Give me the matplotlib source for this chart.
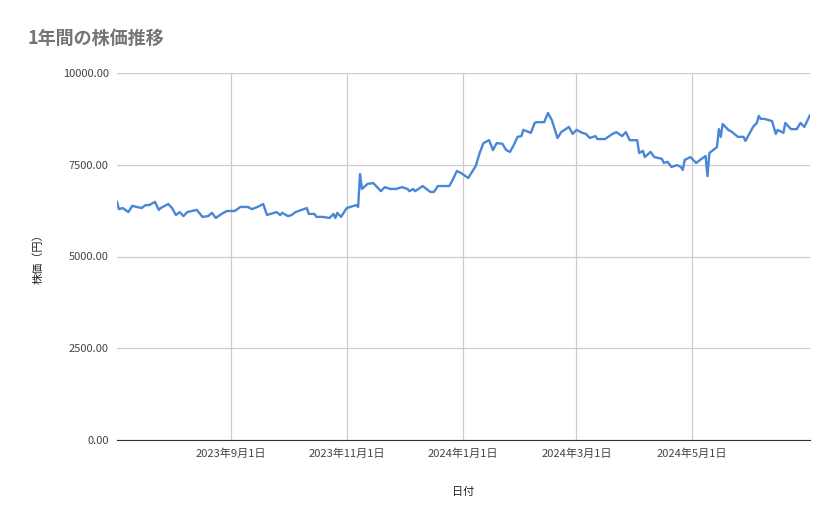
import numpy as np
import pandas as pd
import matplotlib
matplotlib.use("Agg")
from matplotlib import pyplot as plt
import matplotlib.dates as mdates

plt.rcParams['font.family'] = ['Noto Sans CJK JP', 'DejaVu Sans']

start_date = "2023-07-03"
# days since start_date
days = [0, 1, 3, 6, 8, 13, 15, 17, 20, 22, 23, 27, 29, 31, 33, 35, 37, 42, 45, 48,
        50, 52, 56, 58, 62, 65, 69, 71, 74, 77, 79, 84, 86, 87, 90, 92, 94, 100, 101, 104,
        105, 108, 112, 114, 115, 116, 118, 121, 126, 127, 128, 129, 132, 135, 137, 139, 141, 144, 147, 150,
        153, 154, 156, 157, 161, 165, 167, 169, 175, 177, 179, 181, 185, 189, 191, 193, 196, 198, 200, 203,
        205, 207, 209, 211, 213, 214, 218, 220, 221, 225, 227, 229, 232, 234, 238, 240, 242, 245, 247, 249,
        252, 253, 257, 261, 263, 266, 268, 270, 274, 275, 277, 278, 281, 283, 287, 288, 290, 292, 295, 297,
        298, 299, 302, 305, 310, 311, 312, 316, 317, 318, 319, 322, 324, 327, 330, 331, 335, 337, 338, 339,
        341, 345, 347, 348, 351, 352, 355, 358, 360, 362, 365]
prices = [6490, 6290, 6320, 6210, 6380, 6320, 6400, 6400, 6490, 6270, 6320, 6430, 6320, 6130, 6210, 6100, 6210, 6270, 6080, 6100,
          6190, 6050, 6190, 6240, 6240, 6350, 6350, 6290, 6350, 6430, 6130, 6210, 6130, 6190, 6100, 6130, 6210, 6320, 6160, 6160,
          6080, 6080, 6050, 6160, 6050, 6190, 6080, 6320, 6400, 6350, 7250, 6840, 6980, 7000, 6890, 6780, 6890, 6840, 6840, 6890,
          6840, 6780, 6840, 6780, 6920, 6760, 6760, 6920, 6920, 7110, 7330, 7280, 7140, 7470, 7820, 8090, 8170, 7900, 8090, 8070,
          7900, 7850, 8040, 8260, 8280, 8450, 8370, 8640, 8660, 8660, 8910, 8720, 8230, 8390, 8530, 8340, 8450, 8370, 8340, 8230,
          8280, 8200, 8200, 8340, 8390, 8280, 8390, 8170, 8170, 7820, 7880, 7710, 7850, 7710, 7660, 7550, 7580, 7440, 7490, 7440,
          7360, 7630, 7710, 7550, 7740, 7190, 7820, 7980, 8470, 8260, 8610, 8450, 8390, 8260, 8260, 8150, 8530, 8640, 8830, 8750,
          8750, 8690, 8340, 8450, 8370, 8640, 8470, 8470, 8640, 8530, 8850]
tick_dates = ["2023-09-01", "2023-11-01", "2024-01-01", "2024-03-01", "2024-05-01"]
tick_labels = ["2023年9月1日", "2023年11月1日", "2024年1月1日", "2024年3月1日", "2024年5月1日"]
y_ticks = [0, 2500, 5000, 7500, 10000]

dates = pd.Timestamp(start_date) + pd.to_timedelta(days, unit="D")

fig = plt.figure(figsize=(8.39, 5.19), dpi=100)
ax = fig.add_axes([117 / 839, 1 - 440 / 519, (810 - 117) / 839, (440 - 73) / 519])
ax.plot(dates, prices, color="#4a86d8", lw=1.7)

ax.set_xlim(pd.Timestamp(start_date), pd.Timestamp(start_date) + pd.Timedelta(days=365))
ax.set_ylim(0, 10000)
ax.set_yticks(y_ticks)
ax.set_yticklabels([f"{v:.2f}" for v in y_ticks])
ax.set_xticks(pd.to_datetime(tick_dates))
ax.set_xticklabels(tick_labels)
ax.tick_params(length=0, labelsize=8, colors="#444444", pad=6)
ax.grid(True, color="#cccccc", lw=0.9)
ax.set_axisbelow(True)
for s in ["top", "right", "left"]:
    ax.spines[s].set_visible(False)
ax.spines["bottom"].set_color("#333333")

ax.set_xlabel("日付", fontsize=8, color="#222222", labelpad=20)
ax.set_ylabel("株価（円）", fontsize=8, color="#222222", labelpad=14)
fig.text(27 / 839, 1 - 38 / 519, "1年間の株価推移", fontsize=13, color="#757575",
         fontweight="bold", va="center")

fig.savefig("out.png", dpi=100)
